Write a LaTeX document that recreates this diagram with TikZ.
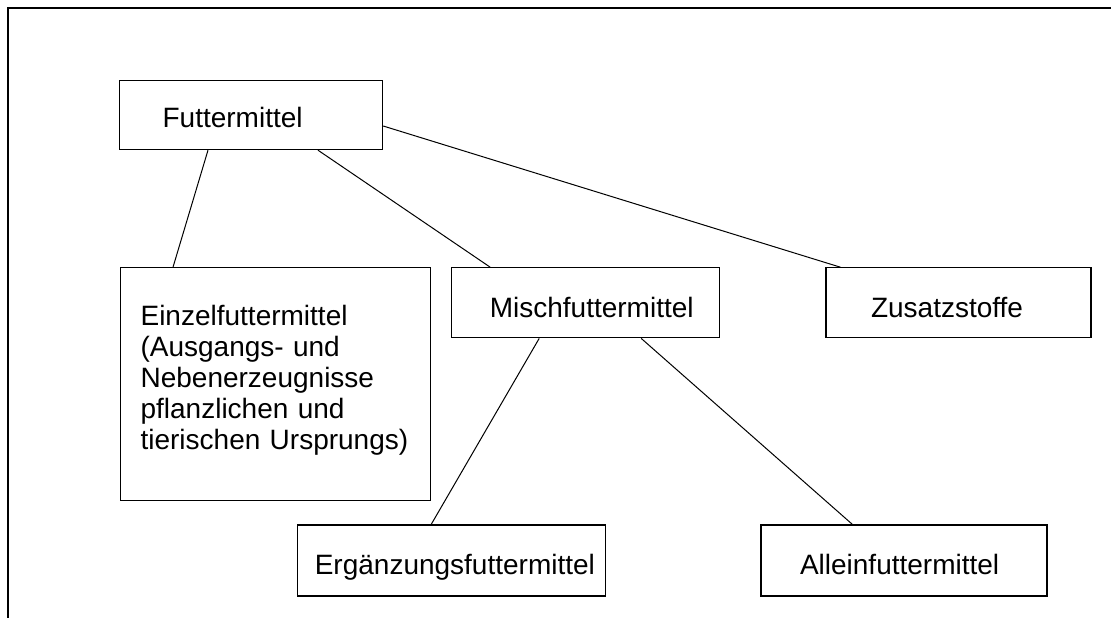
\documentclass[tikz,border=0pt]{standalone}
\usepackage{fontspec}
\setmainfont{Liberation Sans}
\usetikzlibrary{positioning}
\newcommand{\futterfont}{\fontsize{28}{31}\selectfont}

\begin{document}
\begin{tikzpicture}[x=1pt, y=-1pt, line width=1pt, font=\futterfont,
    fbox/.style={draw, rectangle, align=left, inner ysep=0pt, line width=1.2pt}]
    \useasboundingbox (0,0) rectangle (1111,618);
    \draw[line width=2pt] (8,618) -- (8,8) -- (1111,8);

    \node[fbox, inner xsep=43pt, text width=177pt, text height=47pt, text depth=22pt, anchor=north west] (futter) at (119,80) {Futtermittel};
    \node[fbox, inner xsep=20pt, text width=270pt, text height=58pt, text depth=175pt] (einzel) [below right=117pt and 1pt of futter.south west] {Einzelfuttermittel\\(Ausgangs- und\\Nebenerzeugnisse\\pflanzlichen und\\tierischen Ursprungs)};
    \node[fbox, inner xsep=38pt, text width=192pt, text height=50pt, text depth=20pt] (misch) [right=20pt of einzel.north east, anchor=north west] {Mischfuttermittel};
    \node[fbox, inner xsep=45pt, text width=175pt, text height=50pt, text depth=20pt] (zusatz) [right=105pt of misch.north east, anchor=north west] {Zusatzstoffe};
    \node[fbox, inner xsep=17pt, text width=274pt, text height=49pt, text depth=22pt] (erganz) [below left=186pt and 154pt of misch.south west, anchor=north west] {Ergänzungsfuttermittel};
    \node[fbox, inner xsep=39pt, text width=208pt, text height=49pt, text depth=22pt] (allein) [right=154pt of erganz.north east, anchor=north west] {Alleinfuttermittel};

    \path[draw]
    ([xshift=89pt]futter.south west) edge ([xshift=53pt]einzel.north west)
    ([xshift=199pt]futter.south west) edge ([xshift=39pt]misch.north west)
    ([yshift=-46pt]futter.north east) edge ([xshift=15pt]zusatz.north west)
    ([xshift=88pt]misch.south west) edge ([xshift=134pt]erganz.north west)
    ([xshift=190pt]misch.south west) edge ([xshift=92pt]allein.north west);
\end{tikzpicture}
\end{document}
